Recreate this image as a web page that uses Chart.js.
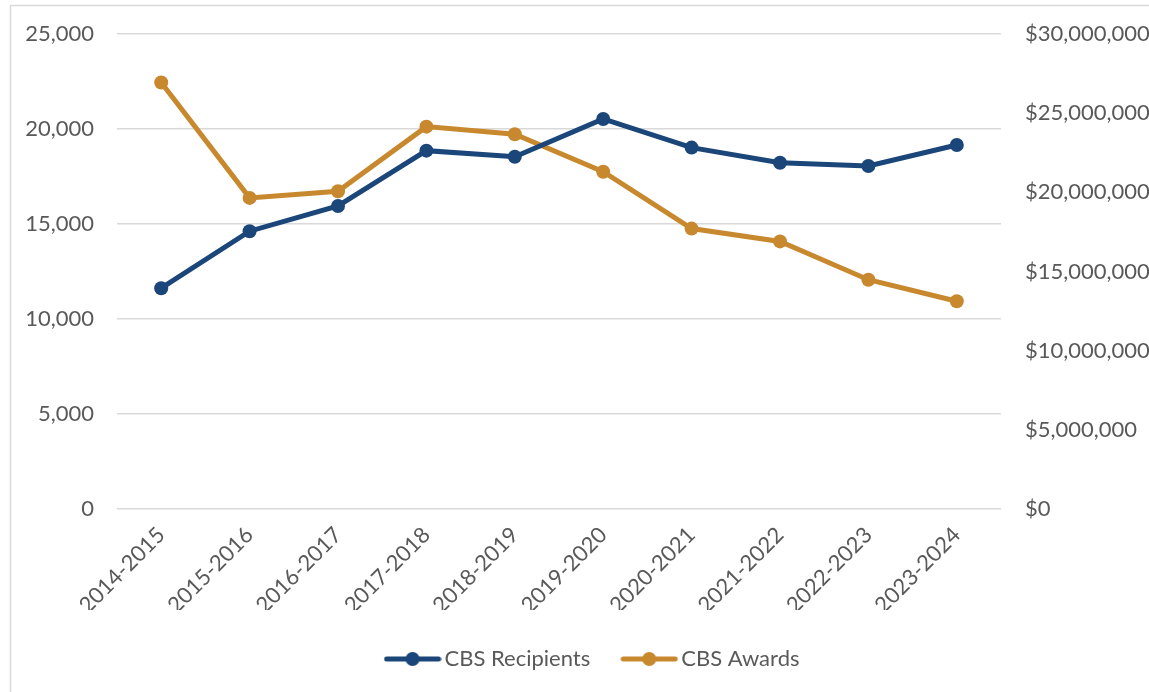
<!DOCTYPE html>
<html>
<head>
<meta charset="utf-8">
<script src="https://cdn.jsdelivr.net/npm/chart.js@4"></script>
<style>
  html, body { margin: 0; padding: 0; background: #fff; }
  #wrap { position: relative; width: 1149px; height: 692px; overflow: hidden; }
</style>
</head>
<body>
<div id="wrap"><canvas id="myChart" width="1149" height="692"></canvas></div>
<script>
// data
var categories = ['2014-2015', '2015-2016', '2016-2017', '2017-2018', '2018-2019',
                  '2019-2020', '2020-2021', '2021-2022', '2022-2023', '2023-2024'];
var recipients = [11620, 14620, 15950, 18860, 18540, 20530, 19020, 18220, 18050, 19160];
var awards = [26940000, 19650000, 20070000, 24150000, 23670000,
              21300000, 17710000, 16900000, 14480000, 13120000];

var leftMax = 25000, leftStep = 5000;
var rightMax = 30000000, rightStep = 5000000;

var blue = '#1b4679';
var orange = '#c8892e';
var textColor = '#595959';
var font = { family: 'Lato', size: 22 };

// little line + dot for the legend, like the Excel one
function legendIcon(color) {
    var c = document.createElement('canvas');
    c.width = 58;
    c.height = 16;
    var g = c.getContext('2d');
    g.strokeStyle = color;
    g.lineWidth = 5;
    g.lineCap = 'round';
    g.beginPath();
    g.moveTo(3, 8);
    g.lineTo(55, 8);
    g.stroke();
    g.fillStyle = color;
    g.beginPath();
    g.arc(29, 8, 7, 0, Math.PI * 2);
    g.fill();
    return c;
}
var icons = [legendIcon(blue), legendIcon(orange)];

// light border round the chart
var frame = {
    id: 'frame',
    beforeDraw: function (chart) {
        var ctx = chart.ctx;
        ctx.save();
        ctx.strokeStyle = '#d9d9d9';
        ctx.lineWidth = 1.5;
        ctx.strokeRect(10.5, 5.5, 1200, 700);
        ctx.restore();
    }
};

// the frame runs past the right edge, so the legend sits a bit right of centre
var legendShift = {
    id: 'legendShift',
    afterLayout: function (chart) {
        chart.legend.left += 21;
        chart.legend.right += 21;
    }
};

// y scales: fixed width, and no extra top/bottom padding from the tick labels
function fixWidth(w) {
    return function (s) {
        s.width = w;
        s.paddingTop = 0;
        s.paddingBottom = 0;
    };
}

var ctx = document.getElementById('myChart').getContext('2d');

new Chart(ctx, {
    type: 'line',
    data: {
        labels: categories,
        datasets: [
            {
                label: 'CBS Recipients',
                data: recipients,
                yAxisID: 'y',
                borderColor: blue,
                backgroundColor: blue,
                borderWidth: 5,
                pointRadius: 7,
                pointBorderWidth: 0,
                tension: 0
            },
            {
                label: 'CBS Awards',
                data: awards,
                yAxisID: 'y1',
                borderColor: orange,
                backgroundColor: orange,
                borderWidth: 5,
                pointRadius: 7,
                pointBorderWidth: 0,
                tension: 0
            }
        ]
    },
    options: {
        responsive: false,
        animation: false,
        layout: { padding: { top: 34, left: 0, right: 0, bottom: 12 } },
        plugins: {
            tooltip: { enabled: false },
            legend: {
                position: 'bottom',
                labels: {
                    color: textColor,
                    font: font,
                    usePointStyle: true,
                    pointStyleWidth: 42,
                    padding: 38,
                    generateLabels: function (chart) {
                        var items = Chart.defaults.plugins.legend.labels.generateLabels(chart);
                        items.forEach(function (it, i) { it.pointStyle = icons[i]; });
                        return items;
                    }
                }
            }
        },
        scales: {
            x: {
                offset: true,
                grid: { display: false },
                border: { display: false },
                ticks: { color: textColor, font: font, minRotation: 45, maxRotation: 45, padding: 5 },
                afterFit: function (s) { s.height = 101; }
            },
            y: {
                position: 'left',
                min: 0,
                max: leftMax,
                border: { display: false },
                grid: { color: '#d9d9d9', lineWidth: 1.5, drawTicks: false },
                ticks: {
                    stepSize: leftStep,
                    color: textColor,
                    font: font,
                    padding: 23,
                    callback: function (v) { return v.toLocaleString('en-US'); }
                },
                afterFit: fixWidth(117)
            },
            y1: {
                position: 'right',
                min: 0,
                max: rightMax,
                border: { display: false },
                grid: { display: false, drawTicks: false },
                ticks: {
                    stepSize: rightStep,
                    color: textColor,
                    font: font,
                    padding: 24,
                    callback: function (v) { return '$' + v.toLocaleString('en-US'); }
                },
                afterFit: fixWidth(148)
            }
        }
    },
    plugins: [frame, legendShift]
});
</script>
</body>
</html>
